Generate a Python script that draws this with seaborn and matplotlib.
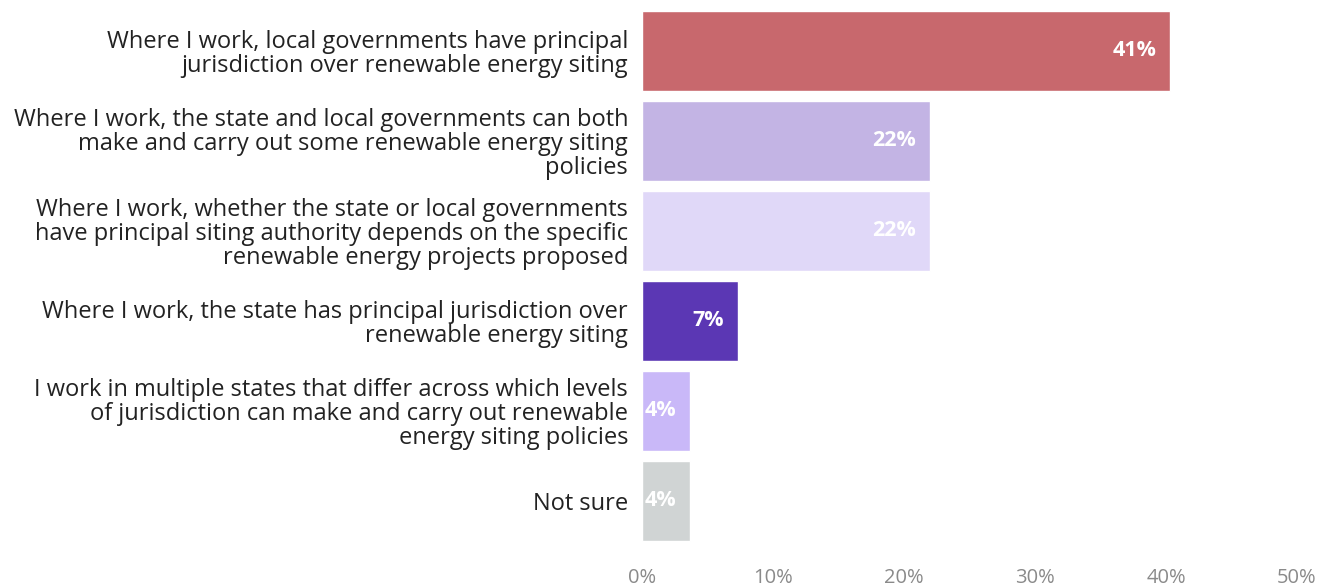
import matplotlib
matplotlib.use("Agg")
import matplotlib.pyplot as plt
import seaborn as sns
import pandas as pd
from matplotlib.ticker import FuncFormatter
from matplotlib.transforms import offset_copy

categories = [
    "Where I work, local governments have principal\njurisdiction over renewable energy siting",
    "Where I work, the state and local governments can both\nmake and carry out some renewable energy siting\npolicies",
    "Where I work, whether the state or local governments\nhave principal siting authority depends on the specific\nrenewable energy projects proposed",
    "Where I work, the state has principal jurisdiction over\nrenewable energy siting",
    "I work in multiple states that differ across which levels\nof jurisdiction can make and carry out renewable\nenergy siting policies",
    "Not sure",
]
values = [40.3, 22.0, 22.0, 7.3, 3.7, 3.7]
value_labels = ["41%", "22%", "22%", "7%", "4%", "4%"]
colors = ["#C8686D", "#C3B4E4", "#E0D8F8", "#5B37B4", "#C9B8F8", "#D0D4D4"]
xticks = [0, 10, 20, 30, 40, 50]

sns.set_theme(style="white")
plt.rcParams["font.family"] = ["Open Sans", "DejaVu Sans"]

df = pd.DataFrame({"category": categories, "value": values})

fig = plt.figure(figsize=(13.34, 5.87), dpi=100)
ax = fig.add_axes([642 / 1334, 1 - 546 / 587, (1297 - 642) / 1334, 540 / 587])

sns.barplot(data=df, x="value", y="category", hue="category", palette=colors,
            legend=False, width=0.889, saturation=1, ax=ax, orient="h")

ax.set_xlim(0, 50)
ax.set_ylim(5.5, -0.5)
ax.set_xticks(xticks)
ax.xaxis.set_major_formatter(FuncFormatter(lambda v, p: f"{v:.0f}%"))
ax.tick_params(axis="x", length=0, pad=16, labelsize=14.5, labelcolor="#8a8a8a")
ax.tick_params(axis="y", length=0, pad=10)
ax.set_yticks(range(len(categories)))
ax.set_yticklabels(categories, fontsize=17, color="#222222", linespacing=1.0)
ax.set_xlabel("")
ax.set_ylabel("")
for s in ax.spines.values():
    s.set_visible(False)
ax.grid(False)

for i, (v, lab) in enumerate(zip(values, value_labels)):
    trans = offset_copy(ax.transData, fig=fig, x=-10, y=0, units="points")
    ax.text(v, i, lab, ha="right", va="center", color="white",
            fontsize=15.5, fontweight="bold", transform=trans)

fig.savefig("out.png", dpi=100)
